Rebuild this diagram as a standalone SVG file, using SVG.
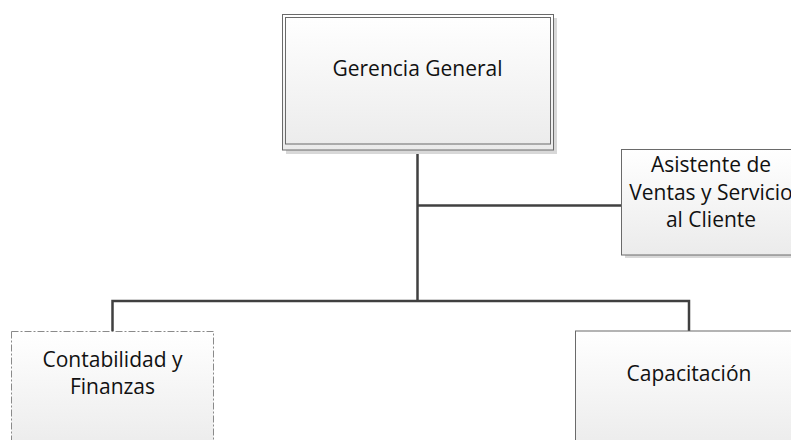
<svg xmlns="http://www.w3.org/2000/svg" width="791" height="440" viewBox="0 0 791 440">
<defs>
<linearGradient id="fill" x1="0" y1="0" x2="0" y2="1">
<stop offset="0" stop-color="#ffffff"/>
<stop offset="1" stop-color="#ebebeb"/>
</linearGradient>
<style>
.box{fill:url(#fill);stroke:#6a6a6a;stroke-width:1}
.shadow{fill:#d8d8d8}
.dashed{stroke-dasharray:7 2 2 2;stroke:#8a8a8a}
.lbl{font-family:"Open Sans","Liberation Sans",sans-serif;font-size:21px;fill:#111;text-anchor:middle}
.conn{stroke:#404040;stroke-width:2.5;fill:none}
</style>
</defs>
<g id="connectors">
<path class="conn" d="M417.5,150 V301"/>
<path class="conn" d="M417.5,205.5 H622"/>
<path class="conn" d="M112.5,331 V301 H689 V331"/>
</g>
<g id="gerencia">
<rect class="shadow" x="286" y="18" width="271" height="136"/>
<rect class="box" x="282.5" y="14.5" width="271" height="135.5"/>
<rect fill="none" stroke="#6a6a6a" x="285.5" y="17.5" width="265" height="126.5"/>
<text class="lbl" x="417.5" y="75.5">Gerencia General</text>
</g>
<g id="asistente">
<rect class="shadow" x="625" y="153" width="180" height="105"/>
<rect class="box" x="621.5" y="149.5" width="180" height="105.5"/>
<text class="lbl" x="711" y="172">Asistente de</text>
<text class="lbl" x="711" y="199.5">Ventas y Servicio</text>
<text class="lbl" x="711" y="227">al Cliente</text>
</g>
<g id="contabilidad">
<rect class="box dashed" x="11.5" y="331.5" width="202" height="120"/>
<text class="lbl" x="112.5" y="367">Contabilidad y</text>
<text class="lbl" x="112.5" y="394">Finanzas</text>
</g>
<g id="capacitacion">
<rect class="box" x="575.5" y="331" width="228" height="120"/>
<text class="lbl" x="689" y="381">Capacitación</text>
</g>
</svg>
